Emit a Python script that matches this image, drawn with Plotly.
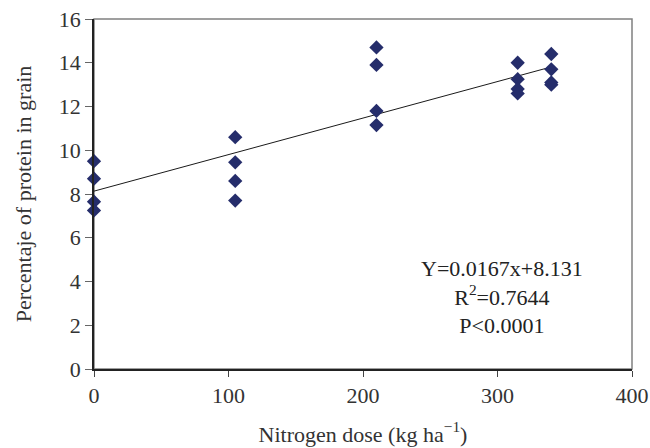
import plotly.graph_objects as go

# Data
dose = [0, 0, 0, 0,
        105, 105, 105, 105,
        210, 210, 210, 210,
        315, 315, 315, 315,
        340, 340, 340, 340]
protein = [9.5, 8.7, 7.65, 7.25,
           10.6, 9.45, 8.6, 7.7,
           14.7, 13.9, 11.8, 11.15,
           14.0, 13.25, 12.8, 12.6,
           14.4, 13.7, 13.1, 13.0]

slope = 0.0167
intercept = 8.131
fit_x = [0, 340]
fit_y = [intercept + slope * v for v in fit_x]

x_ticks = [0, 100, 200, 300, 400]
y_ticks = [0, 2, 4, 6, 8, 10, 12, 14, 16]

FONT = "Liberation Serif"

fig = go.Figure()
fig.add_trace(go.Scatter(x=fit_x, y=fit_y, mode="lines",
                         line=dict(color="#1a1a1a", width=1), showlegend=False,
                         hoverinfo="skip"))
fig.add_trace(go.Scatter(x=dose, y=protein, mode="markers",
                         marker=dict(symbol="diamond", size=11, color="#252d6b",
                                     line=dict(width=0)),
                         showlegend=False, cliponaxis=False))

fig.add_shape(type="rect", xref="paper", yref="paper", x0=0, y0=0, x1=1, y1=1,
              line=dict(color="#808080", width=1.5), layer="below")

fig.add_annotation(x=0.758, y=0.207, xref="paper", yref="paper",
                   xanchor="center", yanchor="middle",
                   text="Y=0.0167x+8.131<br>R<sup>2</sup>=0.7644<br>P<0.0001",
                   showarrow=False, align="center",
                   font=dict(family=FONT, size=22, color="#222"))

fig.update_layout(
    width=650, height=448,
    margin=dict(l=94, r=18, t=19, b=78.5),
    paper_bgcolor="white", plot_bgcolor="white",
    font=dict(family=FONT, size=22, color="#333"),
    xaxis=dict(range=[0, 400], tickvals=x_ticks, showgrid=False, zeroline=False,
               showline=True, linecolor="#222", linewidth=1.5, automargin=False,
               ticks="outside", ticklen=6, tickcolor="#444",
               title=dict(text="Nitrogen dose (kg ha<sup>−1</sup>)", standoff=19,
                          font=dict(size=22))),
    yaxis=dict(range=[0, 16], tickvals=y_ticks, showgrid=False, zeroline=False,
               showline=True, linecolor="#222", linewidth=1.5, automargin=False,
               ticks="outside", ticklen=7, tickcolor="#666",
               title=dict(text="Percentaje of protein in grain", standoff=21,
                          font=dict(size=22))),
)

# remove the default 8px page margin so the figure sits at the window origin
fig.write_html("out.html", config={"displayModeBar": False},
               post_script="document.body.style.margin='0px';document.body.style.overflow='hidden';")
